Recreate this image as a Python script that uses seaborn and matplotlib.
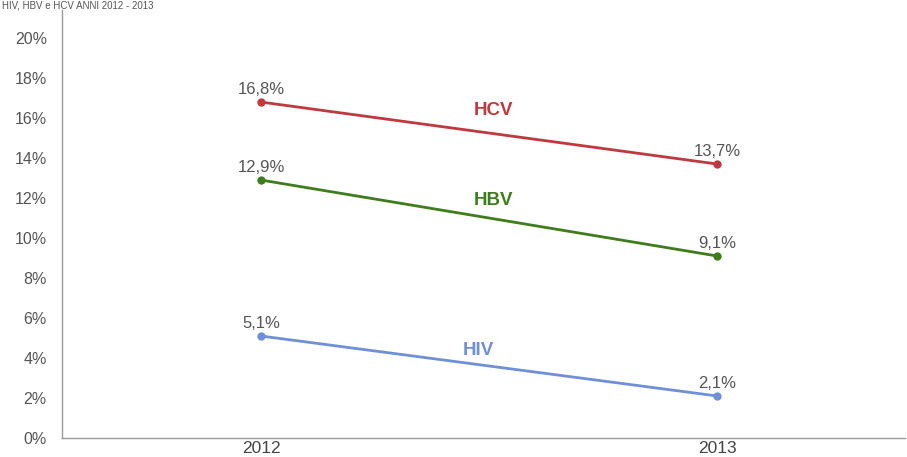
import matplotlib.pyplot as plt
import pandas as pd
import seaborn as sns

# data
years = ['2012', '2013']
hcv = [16.8, 13.7]
hbv = [12.9, 9.1]
hiv = [5.1, 2.1]
series_names = ['HCV', 'HBV', 'HIV']
colors = {'HCV': '#c0393f', 'HBV': '#3f7d1c', 'HIV': '#6f90d8'}


def build_frame():
    """
    Builds a long DataFrame from the small series lists.
    """
    rows = []
    for name, vals in zip(series_names, [hcv, hbv, hiv]):
        for i, v in enumerate(vals):
            rows.append({'pos': i, 'year': years[i], 'virus': name,
                         'value': v})
    return pd.DataFrame(rows)


def main():
    sns.set_style('white')
    plt.rcParams['font.family'] = ['Liberation Sans', 'DejaVu Sans']
    df = build_frame()

    fig = plt.figure(figsize=(9.07, 4.57), dpi=100)
    ax = fig.add_axes([0.0684, 0.0416, 0.9296, 0.9364])
    sns.lineplot(data=df, x='pos', y='value', hue='virus',
                 palette=colors, marker='o', markersize=6,
                 markeredgewidth=0, linewidth=2.0, ax=ax, legend=False)

    # value labels
    for _, row in df.iterrows():
        txt = ('%.1f%%' % row['value']).replace('.', ',')
        ax.text(row['pos'], row['value'] + 0.25, txt, ha='center',
                va='bottom', fontsize=12, color='#555555')

    # series names placed near the middle of each line
    name_pos = {'HCV': (0.51, 16.4), 'HBV': (0.51, 11.9),
                'HIV': (0.476, 4.4)}
    for name in series_names:
        x, y = name_pos[name]
        ax.text(x, y, name, ha='center', va='center', fontsize=13.5,
                fontweight='bold', color=colors[name])

    ax.set_xlim(-0.436, 1.412)
    ax.set_ylim(0, 21.4)
    ax.set_xticks([0, 1])
    ax.set_xticklabels(years)
    ax.set_yticks(range(0, 21, 2))
    ax.set_yticklabels(['%d%%' % v for v in range(0, 21, 2)])
    ax.set_xlabel('')
    ax.set_ylabel('')
    ax.tick_params(axis='y', length=3, width=0.8, color='#999999',
                   labelsize=11.5, labelcolor='#555555', pad=8)
    ax.tick_params(axis='x', length=0, labelsize=12.5, labelcolor='#444444',
                   pad=2)
    for side in ['top', 'right']:
        ax.spines[side].set_visible(False)
    for side in ['left', 'bottom']:
        ax.spines[side].set_color('#999999')
        ax.spines[side].set_linewidth(1.0)

    # title in the thin strip above the plot
    fig.text(2 / 907, 0.999, 'HIV, HBV e HCV ANNI 2012 - 2013', ha='left',
             va='top', fontsize=7, color='#555555')

    plt.savefig('out.png', dpi=100)


if __name__ == '__main__':
    main()
